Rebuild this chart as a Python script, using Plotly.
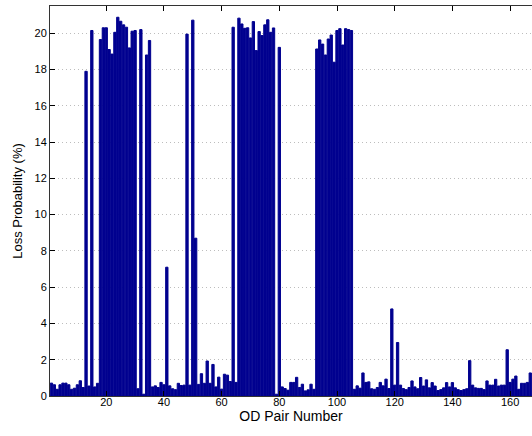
import plotly.graph_objects as go

od_pair = list(range(1, 168))
loss_prob = [
    0.71, 0.62, 0.37, 0.62, 0.71, 0.71, 0.62, 0.37, 0.43, 0.62,
    0.84, 0.47, 17.9, 0.55, 20.15, 0.5, 0.7, 19.65, 20.3, 20.3,
    19.1, 18.85, 20.05, 20.88, 20.66, 20.46, 20.33, 19.19, 20.11, 20.15,
    0.4, 20.2, 0.1, 18.8, 19.6, 0.5, 0.56, 0.47, 0.75, 0.62,
    7.1, 0.56, 0.4, 0.35, 0.7, 0.58, 0.6, 19.95, 0.6, 20.72,
    8.7, 0.64, 1.23, 0.7, 1.93, 0.7, 1.74, 0.5, 1.04, 0.38,
    1.2, 1.15, 0.8, 20.33, 0.75, 20.83, 20.51, 20.27, 20.3, 19.74,
    20.64, 19.04, 20.09, 19.87, 20.46, 20.74, 20.05, 20.29, 0.1, 19.22,
    0.5, 0.41, 0.32, 0.75, 0.75, 1.03, 0.47, 0.65, 0.28, 0.34,
    0.65, 0.37, 19.13, 19.63, 19.4, 18.8, 19.68, 19.9, 18.4, 20.15,
    20.25, 19.35, 20.25, 20.2, 20.15, 0.37, 0.56, 0.43, 1.27, 0.75,
    0.78, 0.4, 0.37, 0.47, 0.75, 0.56, 0.93, 0.41, 4.8, 0.6,
    2.95, 0.6, 0.41, 0.35, 0.47, 0.83, 0.5, 0.4, 1.02, 0.55,
    0.89, 0.45, 0.74, 0.55, 0.3, 0.35, 0.45, 0.74, 0.5, 0.74,
    0.45, 0.35, 0.3, 0.35, 0.4, 1.95, 0.6, 0.45, 0.42, 0.42,
    0.35, 0.83, 0.6, 0.6, 0.92, 0.55, 0.6, 0.6, 2.55, 0.75,
    0.93, 1.1, 0.37, 0.7, 0.7, 0.75, 1.27,
]
x_ticks = [20, 40, 60, 80, 100, 120, 140, 160]
y_ticks = [0, 2, 4, 6, 8, 10, 12, 14, 16, 18, 20]

fig = go.Figure(go.Bar(
    x=od_pair, y=loss_prob,
    marker=dict(color="#00008f", line=dict(width=1, color="#00008f")),
    width=0.8,
))

font_family = "Liberation Sans, Arial, sans-serif"
fig.update_layout(
    width=532, height=436,
    margin=dict(l=50, r=0, t=6, b=40),
    paper_bgcolor="white", plot_bgcolor="white",
    showlegend=False,
    font=dict(family=font_family, size=11, color="black"),
    xaxis=dict(
        range=[0.5, 167.6],
        tickvals=x_ticks,
        ticks="inside", ticklen=5, tickcolor="black",
        showline=True, linecolor="#333333", linewidth=1, mirror="ticks",
        showgrid=False, zeroline=False,
        tickfont=dict(size=11),
        ticklabelstandoff=-4,
        title=dict(text="OD Pair Number", font=dict(size=14), standoff=0),
    ),
    yaxis=dict(
        range=[0, 21.5],
        tickvals=y_ticks,
        ticks="inside", ticklen=5, tickcolor="black",
        showline=True, linecolor="#333333", linewidth=1, mirror=False,
        showgrid=True, gridcolor="#bdbdbd", griddash="1px,3px", gridwidth=1,
        zeroline=False,
        tickfont=dict(size=11),
        title=dict(text="Loss Probability (%)", font=dict(size=13), standoff=8),
    ),
)
fig.write_html("out.html")
